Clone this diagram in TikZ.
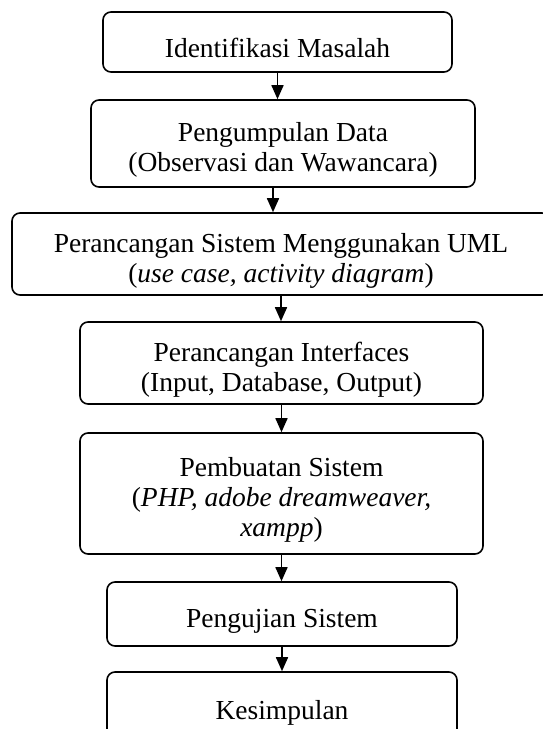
\documentclass[tikz,border=0pt]{standalone}
\usepackage{fontspec}
\setmainfont{Liberation Serif}
\usetikzlibrary{arrows.meta}
\newcommand{\atas}{\rule{0pt}{32pt}}

\begin{document}
\begin{tikzpicture}[x=1pt,y=-1pt,
  tahap/.style={draw,rounded corners=8pt,line width=1.6pt,align=center,
    font=\fontsize{27.5}{30}\selectfont},
  alur/.style={-{Triangle[width=12pt,length=14pt]},line width=1.6pt}]
  \useasboundingbox (0,0) rectangle (542,729);

  \node[tahap,minimum width=349pt,minimum height=60pt] (identifikasi) at (277.5,42)
    {\atas Identifikasi Masalah};
  \node[tahap,minimum width=384pt,minimum height=87pt] (pengumpulan) at (283,143.5)
    {\atas Pengumpulan Data\\(Observasi dan Wawancara)};
  \node[tahap,minimum width=538pt,minimum height=82pt] (uml) at (281,254)
    {\atas Perancangan Sistem Menggunakan UML\\(\textit{use case, activity diagram})};
  \node[tahap,minimum width=403pt,minimum height=82pt] (interface) at (281.5,363)
    {\atas Perancangan Interfaces\\(Input, Database, Output)};
  \node[tahap,minimum width=403pt,minimum height=121pt] (pembuatan) at (281.5,493.5)
    {\atas Pembuatan Sistem\\(\textit{PHP, adobe dreamweaver,}\\\textit{xampp})};
  \node[tahap,minimum width=350pt,minimum height=64pt] (pengujian) at (282,614)
    {\atas Pengujian Sistem};
  \node[tahap,minimum width=350pt,minimum height=68pt] (kesimpulan) at (282,706)
    {\atas Kesimpulan};

  % panah antar tahap
  \draw[alur] (identifikasi.south) -- (identifikasi.south |- pengumpulan.north);
  \draw[alur] ([xshift=-10pt]pengumpulan.south) -- ([xshift=-10pt]pengumpulan.south |- uml.north);
  \draw[alur] (uml.south) -- (uml.south |- interface.north);
  \draw[alur] (interface.south) -- (interface.south |- pembuatan.north);
  \draw[alur] (pembuatan.south) -- (pembuatan.south |- pengujian.north);
  \draw[alur] (pengujian.south) -- (pengujian.south |- kesimpulan.north);
\end{tikzpicture}
\end{document}
